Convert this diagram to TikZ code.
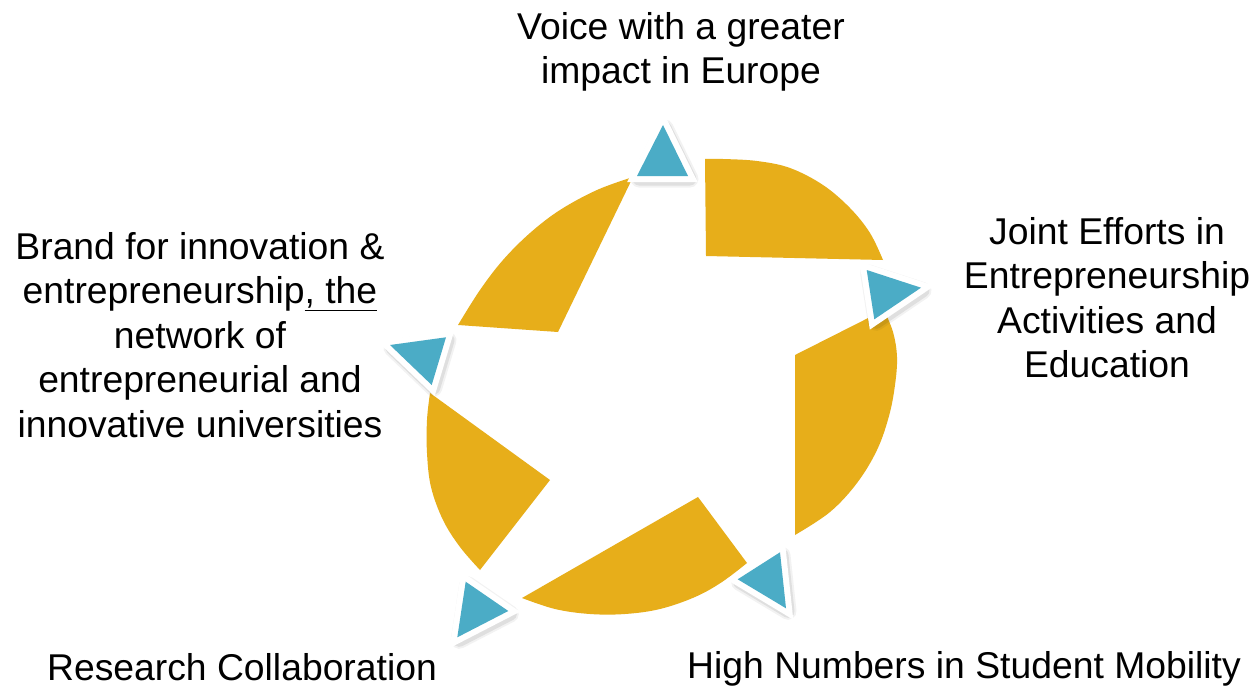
\documentclass[tikz,border=0pt]{standalone}
\usepackage{fontspec}
\setmainfont{Liberation Sans}
\definecolor{gold}{RGB}{231,174,26}
\definecolor{aqua}{RGB}{75,172,198}
\tikzset{
  piece/.style={fill=gold},
  lbl/.style={align=center, inner sep=0pt, anchor=north, text=black,
    font=\fontsize{37.3}{44.5}\selectfont},
  triborder/.style={draw=white, line width=12pt, line join=miter},
  trishadowa/.style={draw=black, draw opacity=0.05, line width=17pt, line join=round},
  trishadowb/.style={draw=black, draw opacity=0.08, line width=13pt, line join=round},
  trifill/.style={fill=aqua}
}
\newcommand\mytri[3]{%
  \path[trishadowa, shift={(2,3)}] #1 -- #2 -- #3 -- cycle;
  \path[trishadowb, shift={(2,3)}] #1 -- #2 -- #3 -- cycle;
  \path[triborder] #1 -- #2 -- #3 -- cycle;
  \path[trifill] #1 -- #2 -- #3 -- cycle;}
\begin{document}
\begin{tikzpicture}[x=1pt,y=-1pt]
\useasboundingbox (0,0) rectangle (1255,688);
\fill[white] (0,0) rectangle (1255,688);
% gold pieces of the ring
\fill[piece] (706,256) -- plot[smooth, tension=.6] coordinates {(883,260) (870,233) (850,208) (823,185) (790,168) (757,161) (723,159) (705,159)} -- cycle;
\fill[piece] (795,355) -- plot[smooth, tension=.6] coordinates {(884,310) (893,332) (897,357) (895,385) (889,416) (877,450) (857,483) (830,512) (795,535)} -- cycle;
\fill[piece] (698,497) -- plot[smooth, tension=.6] coordinates {(747,563) (722,582) (695,597) (660,609) (625,614) (590,614) (555,609) (522,598)} -- cycle;
\fill[piece] (550,480) -- plot[smooth, tension=.6] coordinates {(480,570) (460,547) (443,520) (431,487) (427,453) (427,420) (430,393)} -- cycle;
\fill[piece] (558,332) -- plot[smooth, tension=.6] coordinates {(458,325) (480,290) (503,260) (530,233) (560,210) (597,190) (633,177)} -- cycle;
% triangles
\mytri{(663,125)}{(637,176)}{(688,176)}
\mytri{(866.7,270)}{(874.3,319.3)}{(921,287.7)}
\mytri{(780,552.3)}{(786,608.3)}{(737.7,579.3)}
\mytri{(465.7,581.7)}{(457.3,637.3)}{(508.3,611)}
\mytri{(390,345)}{(446,337.3)}{(431.7,385)}
% labels
\node[lbl] (voice) at (681,12) {Voice with a greater\\impact in Europe};
\node[lbl] (joint) at (1107,217) {Joint Efforts in\\Entrepreneurship\\Activities and\\Education};
\node[lbl] (brand) at (200,232) {Brand for innovation \&\\entrepreneurship\underline{, the}\\network of\\entrepreneurial and\\innovative universities};
\node[lbl] (research) at (242,653) {Research Collaboration};
\node[lbl] (mobility) at (964,651) {High Numbers in Student Mobility};
\end{tikzpicture}
\end{document}
